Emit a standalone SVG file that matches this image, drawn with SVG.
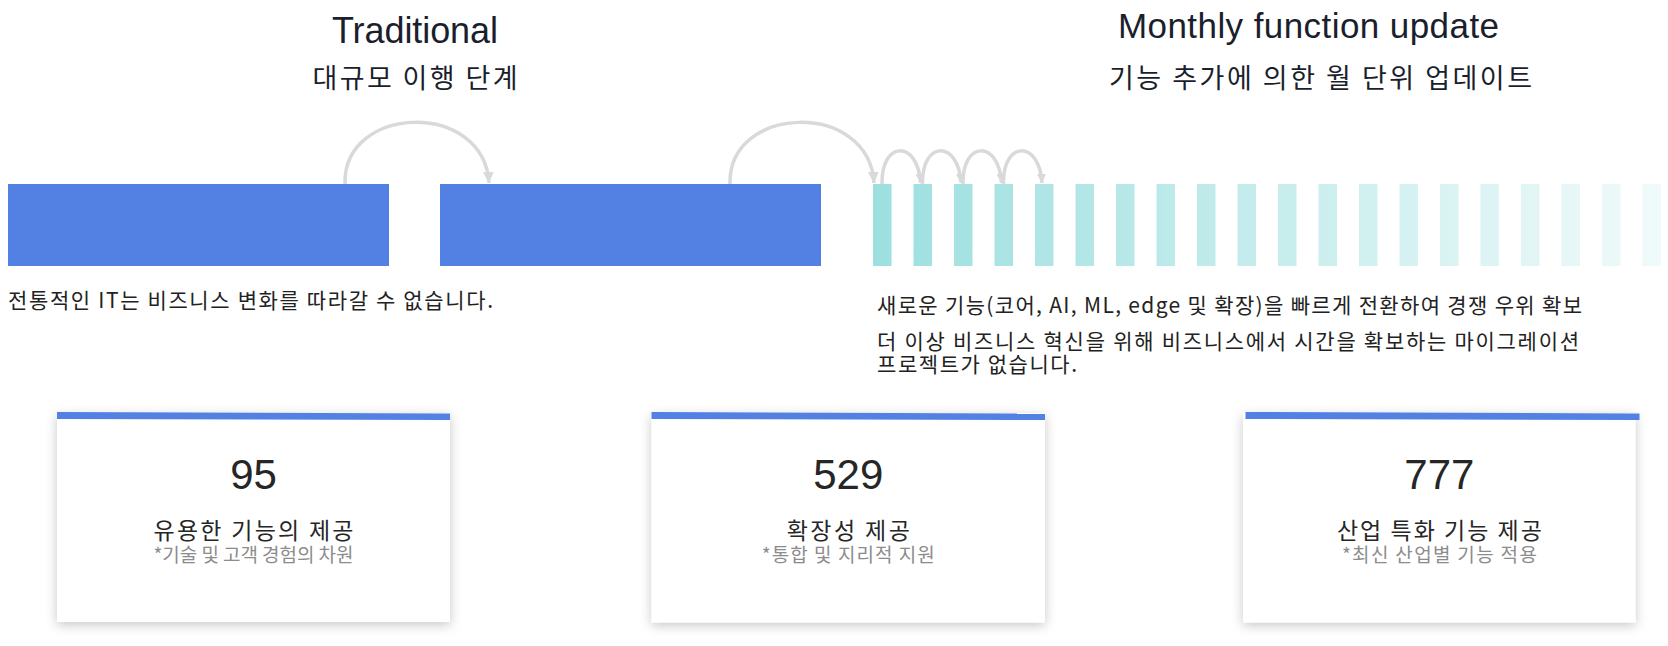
<svg xmlns="http://www.w3.org/2000/svg" width="1668" height="646" viewBox="0 0 1668 646">
  <defs>
    <style>
      .title { font-family: "Liberation Sans", Arial, sans-serif; fill: #1b1f2d; text-anchor: middle; }
      .ko { font-family: "Noto Sans CJK KR", "Liberation Sans", sans-serif; }
      .sub { font-size: 27px; fill: #1b1f2d; text-anchor: middle; }
      .desc { font-size: 21px; fill: #222222; }
      .big { fill: #5280e3; }
      .tick { fill: url(#fade); }
      .arc { fill: none; stroke: #d9d9d9; stroke-width: 3.5; }
      .card { fill: #ffffff; filter: url(#shadow); }
      .cardbar { fill: #5280e3; }
      .num { font-family: "Liberation Sans", Arial, sans-serif; font-size: 42px; fill: #262626; text-anchor: middle; }
      .ctitle { font-size: 23px; fill: #262626; text-anchor: middle; }
      .csub { font-size: 19px; fill: #8c8c8c; text-anchor: middle; }
    </style>
    <linearGradient id="fade" gradientUnits="userSpaceOnUse" x1="872" y1="0" x2="1662" y2="0">
      <stop offset="0" stop-color="#9ddfdf"/>
      <stop offset="1" stop-color="#f0fafa"/>
    </linearGradient>
    <filter id="shadow" x="-10%" y="-15%" width="120%" height="135%">
      <feDropShadow dx="0" dy="3" stdDeviation="6" flood-color="#000000" flood-opacity="0.22"/>
    </filter>
    <marker id="ahBig" markerUnits="userSpaceOnUse" markerWidth="12" markerHeight="11" refX="11" refY="5.5" orient="auto">
      <path d="M0,0 L11,5.5 L0,11 Z" fill="#d9d9d9"/>
    </marker>
    <marker id="ahSmall" markerUnits="userSpaceOnUse" markerWidth="10" markerHeight="9" refX="9" refY="4.5" orient="auto">
      <path d="M0,0 L9,4.5 L0,9 Z" fill="#d9d9d9"/>
    </marker>
  </defs>

  <rect width="1668" height="646" fill="#ffffff"/>

  <g id="header-traditional">
    <text class="title" x="415" y="43" font-size="36" textLength="166">Traditional</text>
    <text class="ko sub" x="415" y="88" textLength="205">대규모 이행 단계</text>
  </g>

  <g id="header-monthly">
    <text class="title" x="1308.5" y="37.5" font-size="35" textLength="381">Monthly function update</text>
    <text class="ko sub" x="1320.5" y="88" textLength="423">기능 추가에 의한 월 단위 업데이트</text>
  </g>

  <g id="phase-1">
    <rect class="big" x="8" y="184" width="381" height="82"/>
  </g>
  <g id="phase-2">
    <rect class="big" x="440" y="184" width="381" height="82"/>
  </g>

  <g id="monthly-updates">
    <rect class="tick" x="873" y="184" width="18.5" height="82"/>
    <rect class="tick" x="913.5" y="184" width="18.5" height="82"/>
    <rect class="tick" x="954" y="184" width="18.5" height="82"/>
    <rect class="tick" x="994.5" y="184" width="18.5" height="82"/>
    <rect class="tick" x="1035" y="184" width="18.5" height="82"/>
    <rect class="tick" x="1075.5" y="184" width="18.5" height="82"/>
    <rect class="tick" x="1116" y="184" width="18.5" height="82"/>
    <rect class="tick" x="1156.5" y="184" width="18.5" height="82"/>
    <rect class="tick" x="1197" y="184" width="18.5" height="82"/>
    <rect class="tick" x="1237.5" y="184" width="18.5" height="82"/>
    <rect class="tick" x="1278" y="184" width="18.5" height="82"/>
    <rect class="tick" x="1318.5" y="184" width="18.5" height="82"/>
    <rect class="tick" x="1359" y="184" width="18.5" height="82"/>
    <rect class="tick" x="1399.5" y="184" width="18.5" height="82"/>
    <rect class="tick" x="1440" y="184" width="18.5" height="82"/>
    <rect class="tick" x="1480.5" y="184" width="18.5" height="82"/>
    <rect class="tick" x="1521" y="184" width="18.5" height="82"/>
    <rect class="tick" x="1561.5" y="184" width="18.5" height="82"/>
    <rect class="tick" x="1602" y="184" width="18.5" height="82"/>
    <rect class="tick" x="1642.5" y="184" width="18.5" height="82"/>
  </g>

  <g id="connectors">
    <path class="arc" d="M345,184 C343,104 484,100 489,183" marker-end="url(#ahBig)"/>
    <path class="arc" d="M730,184 C728,104 869,100 874,183" marker-end="url(#ahBig)"/>
    <path class="arc" d="M882,184 C881,140 918,140 920.5,183" marker-end="url(#ahSmall)"/>
    <path class="arc" d="M922.5,184 C921.5,140 958.5,140 961,183" marker-end="url(#ahSmall)"/>
    <path class="arc" d="M963,184 C962,140 999,140 1001.5,183" marker-end="url(#ahSmall)"/>
    <path class="arc" d="M1003.5,184 C1002.5,140 1039.5,140 1042,183" marker-end="url(#ahSmall)"/>
  </g>

  <g id="desc-traditional">
    <text class="ko desc" x="8" y="307.5" textLength="485">전통적인 IT는 비즈니스 변화를 따라갈 수 없습니다.</text>
  </g>

  <g id="desc-monthly">
    <text class="ko desc" x="877" y="312.5" textLength="705">새로운 기능(코어, AI, ML, edge 및 확장)을 빠르게 전환하여 경쟁 우위 확보</text>
    <text class="ko desc" x="877" y="348.5" textLength="702">더 이상 비즈니스 혁신을 위해 비즈니스에서 시간을 확보하는 마이그레이션</text>
    <text class="ko desc" x="877" y="371.5" textLength="200">프로젝트가 없습니다.</text>
  </g>

  <g id="card-95">
    <rect class="card" x="57" y="413" width="393" height="209"/>
    <polygon class="cardbar" points="57,412 450,413.5 450,420 57,419"/>
    <text class="num" x="253.5" y="488.5">95</text>
    <text class="ko ctitle" x="253.5" y="538.5" textLength="200">유용한 기능의 제공</text>
    <text class="ko csub" x="253.5" y="561.5" textLength="200">*기술 및 고객 경험의 차원</text>
  </g>

  <g id="card-529">
    <rect class="card" x="651.5" y="413" width="393.5" height="209.5"/>
    <polygon class="cardbar" points="651.5,412 1045,413.5 1045,420 651.5,419"/>
    <text class="num" x="848.3" y="489">529</text>
    <text class="ko ctitle" x="848.3" y="538.5" textLength="123">확장성 제공</text>
    <text class="ko csub" x="848.3" y="562" textLength="173">*통합 및 지리적 지원</text>
  </g>

  <g id="card-777">
    <rect class="card" x="1243" y="413" width="392.5" height="209.5"/>
    <polygon class="cardbar" points="1245.5,412 1639.5,413.5 1639.5,420 1245.5,419"/>
    <text class="num" x="1439.4" y="489">777</text>
    <text class="ko ctitle" x="1439.4" y="538.5" textLength="205">산업 특화 기능 제공</text>
    <text class="ko csub" x="1439.4" y="562" textLength="195">*최신 산업별 기능 적용</text>
  </g>
</svg>
